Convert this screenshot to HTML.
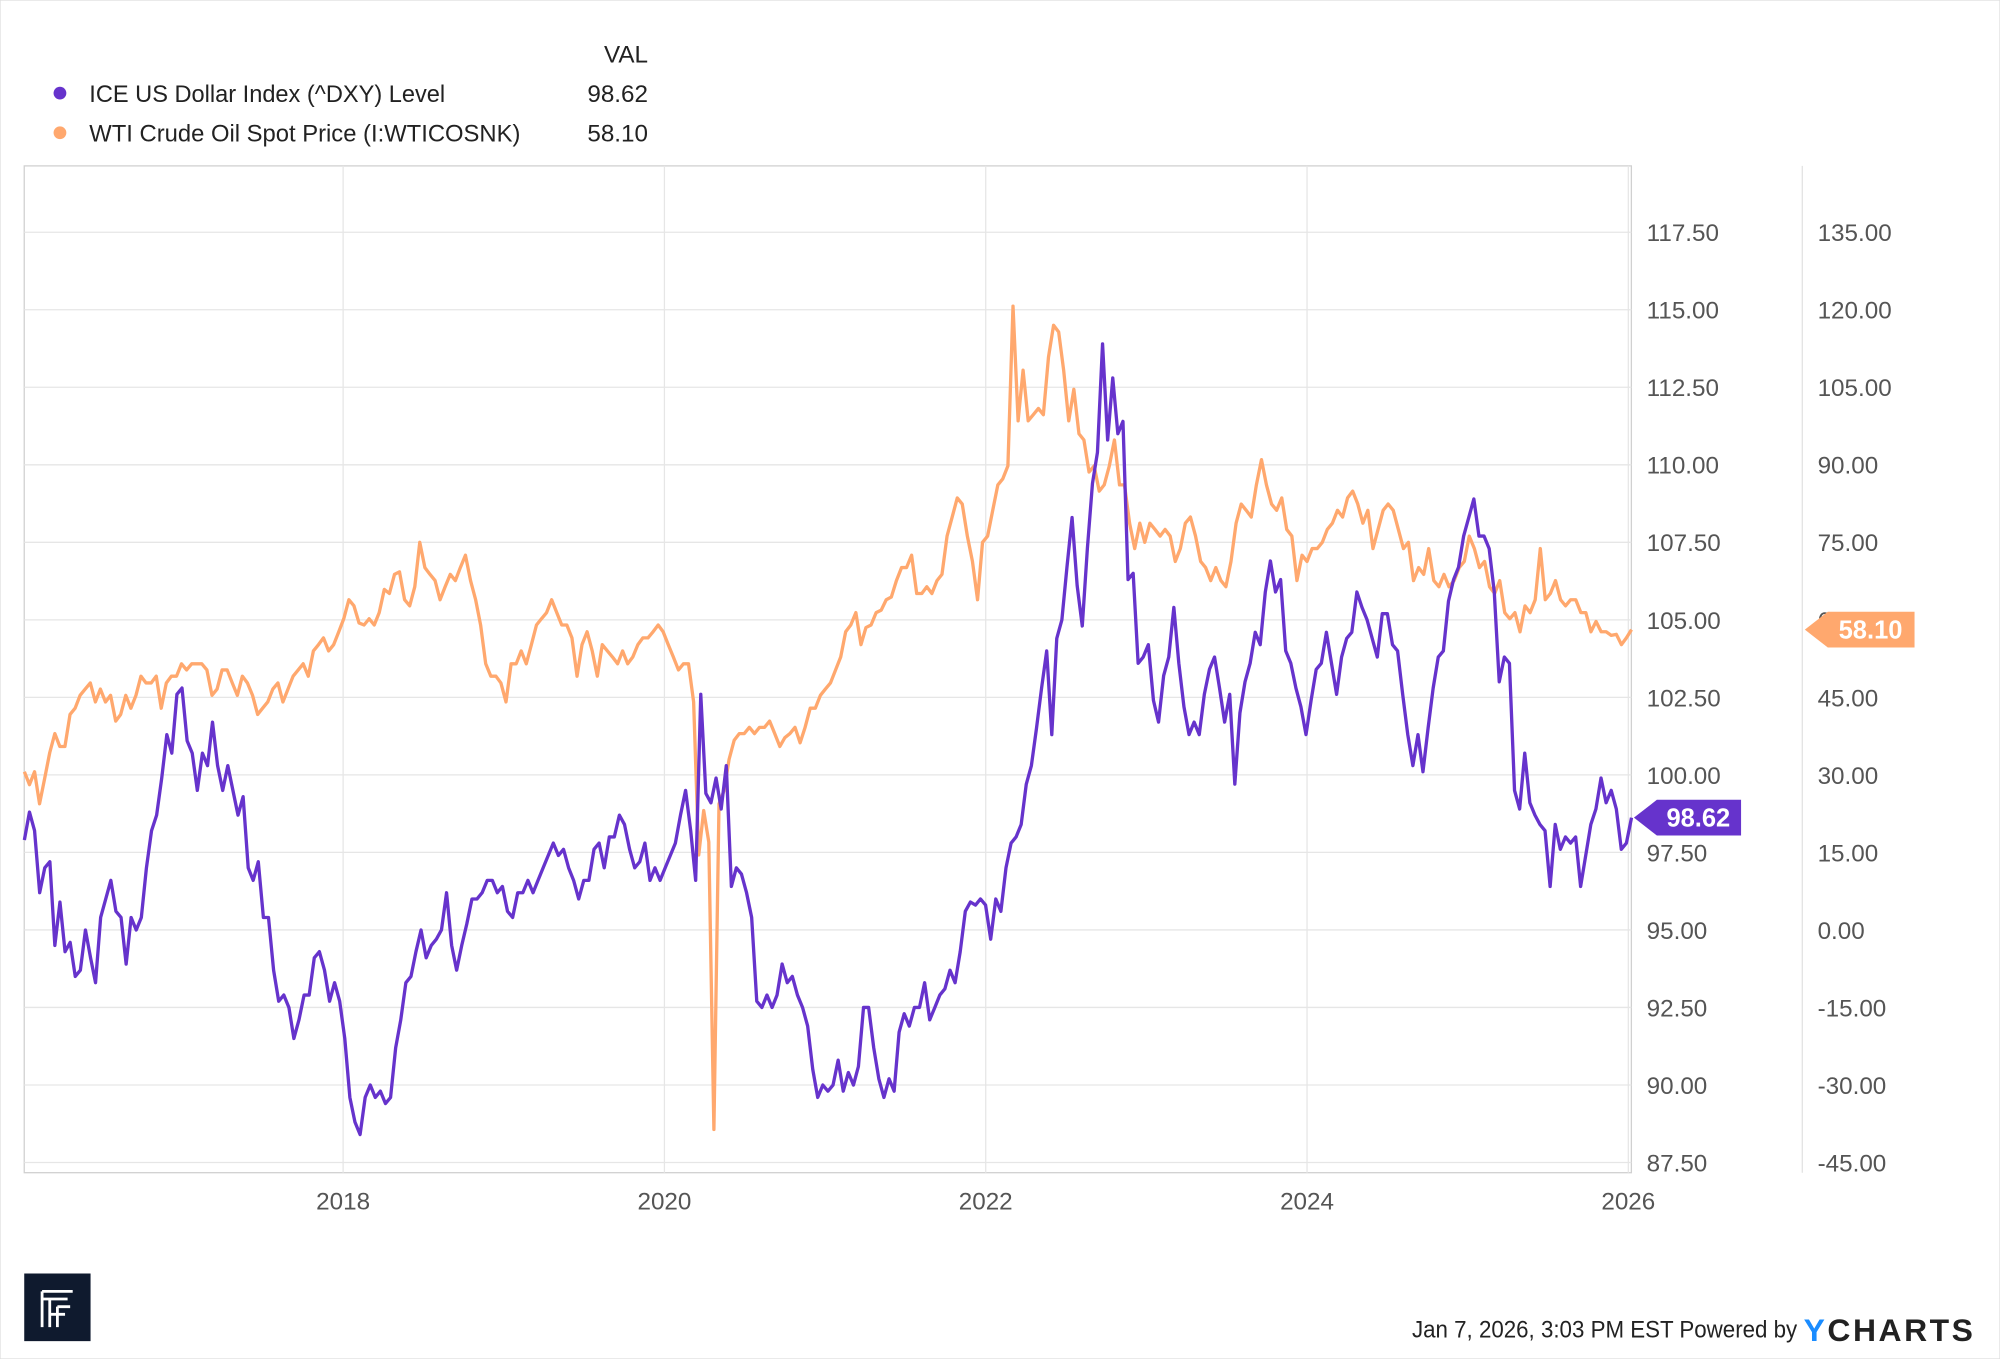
<!DOCTYPE html>
<html><head><meta charset="utf-8"><style>
html,body{margin:0;padding:0;background:#fff;}
svg{display:block;font-family:"Liberation Sans",sans-serif;}
</style></head><body>
<svg id="chart" width="2000" height="1359" viewBox="0 0 1568 1065" preserveAspectRatio="none" xmlns="http://www.w3.org/2000/svg">
<rect x="0" y="0" width="1568" height="1065" fill="#fff" stroke="#ddd"/>
<g id="grid"></g>
<g id="axes"></g>
<g id="series"></g>
<g>
<text x="508" y="49" text-anchor="end" font-size="19" fill="#222">VAL</text>
<circle cx="47" cy="73" r="5" fill="#6633cc"/>
<text x="70" y="80" font-size="19" fill="#222" textLength="279" lengthAdjust="spacingAndGlyphs">ICE US Dollar Index (^DXY) Level</text>
<text x="508" y="80" text-anchor="end" font-size="19" fill="#222">98.62</text>
<circle cx="47" cy="104" r="5" fill="#ffa86e"/>
<text x="70" y="111" font-size="19" fill="#222" textLength="338" lengthAdjust="spacingAndGlyphs">WTI Crude Oil Spot Price (I:WTICOSNK)</text>
<text x="508" y="111" text-anchor="end" font-size="19" fill="#222">58.10</text>
</g>
<g>
<rect x="19" y="998" width="52" height="53" fill="#0f1a2e"/>
<path d="M33 1012h24M33 1018h20M33 1012v28M39 1018v22M45 1024v16M45 1024h10M39 1030h12" stroke="#fff" stroke-width="2.2" fill="none"/>
</g>
<text x="1409" y="1048" text-anchor="end" font-size="19" fill="#222" textLength="302" lengthAdjust="spacingAndGlyphs">Jan 7, 2026, 3:03 PM EST Powered by</text>
<text x="1414" y="1051" font-size="25" font-weight="bold" fill="#222" letter-spacing="2"><tspan fill="#1a8cff">Y</tspan>CHARTS</text>
</svg>
<script>
const xTickYears=[2018,2020,2022,2024,2026];
const dxyTicks=[87.5,90,92.5,95,97.5,100,102.5,105,107.5,110,112.5,115,117.5];
const oilTicks=[-45,-30,-15,0,15,30,45,60,75,90,105,120,135];
const startYear=2016.016, endYear=2026.02;
const dxyValues=[97.9,98.8,98.2,96.2,97.0,97.2,94.5,95.9,94.3,94.6,93.5,93.7,95.0,94.1,93.3,95.4,96.0,96.6,95.6,95.4,93.9,95.4,95.0,95.4,97.0,98.2,98.7,99.9,101.3,100.7,102.6,102.8,101.1,100.7,99.5,100.7,100.3,101.7,100.3,99.5,100.3,99.5,98.7,99.3,97.0,96.6,97.2,95.4,95.4,93.7,92.7,92.9,92.5,91.5,92.1,92.9,92.9,94.1,94.3,93.7,92.7,93.3,92.7,91.5,89.6,88.8,88.4,89.6,90.0,89.6,89.8,89.4,89.6,91.2,92.1,93.3,93.5,94.3,95.0,94.1,94.5,94.7,95.0,96.2,94.5,93.7,94.5,95.2,96.0,96.0,96.2,96.6,96.6,96.2,96.4,95.6,95.4,96.2,96.2,96.6,96.2,96.6,97.0,97.4,97.8,97.4,97.6,97.0,96.6,96.0,96.6,96.6,97.6,97.8,97.0,98.0,98.0,98.7,98.4,97.6,97.0,97.2,97.8,96.6,97.0,96.6,97.0,97.4,97.8,98.7,99.5,
98.2,96.6,102.6,99.4,99.1,99.9,98.9,100.3,96.4,97.0,96.8,96.2,95.4,92.7,92.5,92.9,92.5,92.9,93.9,93.3,93.5,92.9,92.5,91.9,90.5,89.6,90.0,89.8,90.0,90.8,89.8,90.4,90.0,90.6,92.5,92.5,91.2,90.2,89.6,90.2,89.8,91.7,92.3,91.9,92.5,92.5,93.3,92.1,92.5,92.9,93.1,93.7,93.3,94.3,95.6,95.9,95.8,96.0,95.8,94.7,96.0,95.6,97.0,97.8,98.0,98.4,99.7,100.3,101.5,102.8,104.0,101.3,104.4,105.0,106.7,108.3,106.1,104.8,107.3,109.4,110.4,113.9,110.8,112.8,111.0,111.4,106.3,106.5,103.6,103.8,104.2,102.4,101.7,103.2,103.8,105.4,103.6,102.2,101.3,101.7,101.3,102.6,103.4,103.8,102.8,101.7,102.6,99.7,102.0,103.0,103.6,104.6,104.2,105.9,106.9,105.9,106.3,104.0,103.6,102.8,102.2,101.3,102.4,103.4,103.6,104.6,103.6,102.6,103.8,104.4,104.6,105.9,105.4,105.0,104.4,103.8,105.2,105.2,104.2,104.0,102.6,101.3,100.3,101.3,100.1,101.5,102.8,103.8,104.0,105.6,106.3,106.7,107.7,108.3,108.9,107.7,107.7,107.3,105.9,103.0,103.8,103.6,99.5,98.9,100.7,99.1,98.7,98.4,98.2,96.4,98.4,97.6,98.0,97.8,98.0,96.4,97.4,98.4,98.9,99.9,99.1,99.5,98.9,97.6,97.8,98.62];
const oilValues=[30.6,28.1,30.6,24.4,29.3,34.3,38.0,35.5,35.5,41.7,42.9,45.4,46.6,47.8,44.1,46.6,44.1,45.4,40.4,41.7,45.4,42.9,45.4,49.1,47.8,47.8,49.1,42.9,47.8,49.1,49.1,51.5,50.3,51.5,51.5,51.5,50.3,45.4,46.6,50.3,50.3,47.8,45.4,49.1,47.8,45.4,41.7,42.9,44.1,46.6,47.8,44.1,46.6,49.1,50.3,51.5,49.1,54.0,55.2,56.5,54.0,55.2,57.7,60.2,63.9,62.7,59.4,59.0,60.2,59.0,61.4,65.9,65.1,68.8,69.3,63.9,62.7,66.4,75.0,70.1,68.8,67.6,63.9,66.4,68.8,67.6,70.1,72.5,67.6,63.9,59.0,51.5,49.1,49.1,47.8,44.1,51.5,51.5,54.0,51.5,55.2,59.0,60.2,61.4,63.9,61.4,59.0,59.0,56.5,49.1,55.2,57.7,54.0,49.1,55.2,54.0,52.8,51.5,54.0,51.5,52.8,55.2,56.5,56.5,57.7,59.0,57.7,55.2,52.8,50.3,51.5,51.5,
44.1,14.5,23.1,17.0,-38.6,24.4,26.9,33.0,36.7,38.0,38.0,39.2,38.0,39.2,39.2,40.4,38.0,35.5,37.2,38.0,39.2,36.2,39.2,42.9,42.9,45.4,46.6,47.8,50.3,52.8,57.7,59.0,61.4,55.2,58.5,59.0,61.4,61.9,63.9,64.4,67.6,70.1,70.1,72.5,65.1,65.1,66.4,65.1,67.6,68.8,76.2,79.9,83.6,82.4,76.2,71.3,63.9,75.0,76.2,81.2,86.1,87.3,89.8,120.7,98.5,108.3,98.5,99.7,100.9,99.7,110.8,117.0,115.7,108.3,98.5,104.6,96.0,94.8,88.6,89.8,84.9,86.1,89.8,94.8,86.1,86.1,78.7,73.8,78.7,75.0,78.7,77.5,76.2,77.5,76.2,71.3,73.8,78.7,79.9,76.2,71.3,70.1,67.6,70.1,67.6,66.4,71.3,78.7,82.4,81.2,79.9,86.1,91.0,86.1,82.4,81.2,83.6,77.5,76.2,67.6,72.5,71.3,73.8,73.8,75.0,77.5,78.7,81.2,79.9,83.6,84.9,82.4,78.7,81.2,73.8,77.5,81.2,82.4,81.2,77.5,73.8,75.0,67.6,70.1,68.8,73.8,67.6,66.4,68.8,66.4,67.6,70.1,71.3,76.2,73.8,70.1,71.3,66.4,65.1,67.6,61.4,60.2,61.4,57.7,62.7,61.4,63.9,73.8,63.9,65.1,67.6,63.9,62.7,63.9,63.9,61.4,61.4,57.7,59.7,57.7,57.7,57.0,57.2,55.2,56.5,58.1];

const NS='http://www.w3.org/2000/svg';
const PL=19,PR=1279,PT=130,PB=919;
function xScale(yr){return 269+(yr-2018)*125.95;}
function yDxy(v){return 911-(v-87.5)/2.5*60.75;}
function yOil(v){return 911-(v+45)/15*60.75;}
function mk(tag,attrs,parent){const e=document.createElementNS(NS,tag);for(const k in attrs)e.setAttribute(k,attrs[k]);parent.appendChild(e);return e;}
const grid=document.getElementById('grid'),axes=document.getElementById('axes'),series=document.getElementById('series');

mk('rect',{x:PL,y:PT,width:PR-PL,height:PB-PT,fill:'none',stroke:'#d0d0d0','stroke-width':1},grid);
mk('line',{x1:1413,y1:PT,x2:1413,y2:PB,stroke:'#e2e2e2','stroke-width':1},grid);
xTickYears.forEach(y=>{
  const x=xScale(y);
  const l=mk('line',{x1:x,y1:PT,x2:x,y2:PB,stroke:'#e6e6e6','stroke-width':1},grid);
  
  
  const t=mk('text',{x:x,y:948,'text-anchor':'middle','font-size':19,fill:'#555'},axes);
  t.textContent=String(y);
  
  
});
dxyTicks.forEach(v=>{
  const y=yDxy(v);
  const l=mk('line',{x1:PL,y1:y,x2:PR,y2:y,stroke:'#e6e6e6','stroke-width':1},grid);
  
  
  const t=mk('text',{x:1291,y:y+7,'font-size':19,fill:'#555'},axes);
  t.textContent=v.toFixed(2);
  
  
});
oilTicks.forEach(v=>{
  const t=mk('text',{x:1425,y:yOil(v)+7,'font-size':19,fill:'#555'},axes);
  t.textContent=v.toFixed(2);
  
  
});
function linePath(vals,yf){
  const n=vals.length;
  return vals.map((v,i)=>{const yr=startYear+(endYear-startYear)*i/(n-1);return (i?'L':'M')+xScale(yr).toFixed(1)+' '+yf(v).toFixed(1);}).join('');
}
const oilLine=mk('path',{d:linePath(oilValues,yOil),fill:'none',stroke:'#ffa86e','stroke-width':2.6,'stroke-linejoin':'round'},series);


const dxyLine=mk('path',{d:linePath(dxyValues,yDxy),fill:'none',stroke:'#6633cc','stroke-width':2.6,'stroke-linejoin':'round'},series);



function tag(x,y,w,color,text,name){
  const g=mk('g',{},series);
  
  
  mk('path',{d:`M${x} ${y}L${x+18} ${y-14}H${x+w}V${y+14}H${x+18}Z`,fill:color},g);
  const t=mk('text',{x:x+17+(w-17)/2,y:y+7,'text-anchor':'middle','font-size':20,'font-weight':'bold',fill:'#fff'},g);
  t.textContent=text;
}
tag(1281,yDxy(dxyValues[dxyValues.length-1]),84,'#6633cc',dxyValues[dxyValues.length-1].toFixed(2),'dxy-value-tag');
tag(1415,yOil(oilValues[oilValues.length-1]),86,'#ffa86e',oilValues[oilValues.length-1].toFixed(2),'oil-value-tag');
</script>
</body></html>
